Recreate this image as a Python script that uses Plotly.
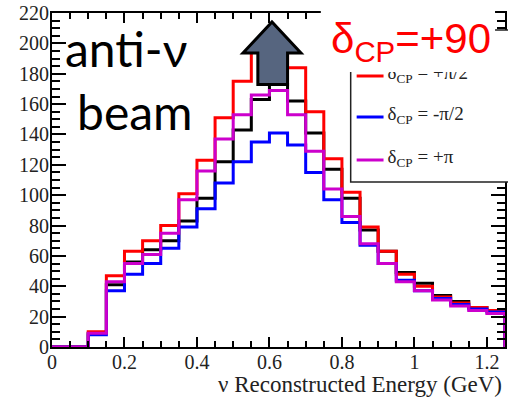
import plotly.graph_objects as go

# Reconstructed energy binning: 25 bins of 0.05 GeV from 0 to 1.25 GeV
bin_edges = [round(0.05 * i, 2) for i in range(26)]

# Expected event counts per bin for each value of delta_CP
counts_dcp_0 = [0, 0, 9, 41, 56, 64, 70, 83, 98, 122, 143, 163, 173,
                162, 141, 117, 98, 77, 63, 49, 42, 34, 30, 26, 24]
counts_dcp_plus_half_pi = [0, 0, 10, 47, 63, 70, 80, 101, 123, 151, 175, 198, 197,
                           184, 155, 124, 102, 79, 63, 48, 40, 33, 29, 26, 24]
counts_dcp_minus_half_pi = [0, 0, 8, 37, 48, 55, 65, 79, 91, 108, 122, 135, 141,
                            133, 115, 97, 82, 67, 55, 44, 37, 32, 28, 25, 23]
counts_dcp_pi = [0, 0, 9, 43, 55, 61, 75, 97, 116, 137, 153, 166, 169,
                 153, 129, 104, 86, 68, 55, 43, 37, 31, 27, 24, 22]

series = [
    ("δ<sub>CP</sub> = 0", counts_dcp_0, "#000000"),
    ("δ<sub>CP</sub> = +π/2", counts_dcp_plus_half_pi, "#ff0000"),
    ("δ<sub>CP</sub> = -π/2", counts_dcp_minus_half_pi, "#0000ff"),
    ("δ<sub>CP</sub> = +π", counts_dcp_pi, "#cc00cc"),
]

X_RANGE = [0, 1.25]
Y_RANGE = [0, 220]

W, H = 508, 398
ML, MR, MT, MB = 52, 1, 13, 51
PW, PH = W - ML - MR, H - MT - MB


def px(xp):
    """Horizontal pixel position -> paper coordinate."""
    return (xp - ML) / PW


def py(yp):
    """Vertical pixel position (from top) -> paper coordinate."""
    return (H - MB - yp) / PH


def dx(xp):
    return X_RANGE[0] + px(xp) * (X_RANGE[1] - X_RANGE[0])


def dy(yp):
    return Y_RANGE[0] + py(yp) * (Y_RANGE[1] - Y_RANGE[0])


def step_xy(vals):
    # histogram outline: one point per bin edge, closed down to zero at the end
    x = list(bin_edges) + [bin_edges[-1]]
    y = list(vals) + [vals[-1], 0]
    return x, y


fig = go.Figure()
for name, vals, color in series:
    x, y = step_xy(vals)
    fig.add_trace(go.Scatter(x=x, y=y, mode="lines", line_shape="hv",
                             line=dict(color=color, width=3), name=name,
                             showlegend=False, hoverinfo="skip"))

serif = "Liberation Serif, Times New Roman, serif"

# legend entry labels (the top entry is partly covered by the label box)
legend_rows = [(series[1], 76), (series[2], 117), (series[3], 160)]
fig.add_trace(go.Scatter(
    x=[dx(389)] * len(legend_rows),
    y=[dy(yrow - 2) for _, yrow in legend_rows],
    mode="text", text=[s[0] for s, _ in legend_rows],
    textposition="middle right",
    textfont=dict(family=serif, size=19, color="#222"),
    showlegend=False, hoverinfo="skip", cliponaxis=False))

axis_common = dict(
    showline=True, linewidth=2, linecolor="black", mirror="allticks",
    ticks="inside", tickwidth=2, tickcolor="black",
    showgrid=False, zeroline=False,
    tickfont=dict(family=serif, size=20, color="#222"),
)

fig.update_layout(
    width=W, height=H,
    margin=dict(l=ML, r=MR, t=MT, b=MB, pad=0),
    paper_bgcolor="white", plot_bgcolor="white",
    xaxis=dict(range=X_RANGE, tick0=0, dtick=0.2, ticklen=10,
               ticklabelstandoff=-4,
               minor=dict(dtick=0.05, ticklen=6, tickwidth=1.5, ticks="inside",
                          tickcolor="black"),
               **axis_common),
    yaxis=dict(range=Y_RANGE, tick0=0, dtick=20, ticklen=14,
               ticklabelstandoff=-3,
               minor=dict(dtick=5, ticklen=8, tickwidth=1.5, ticks="inside",
                          tickcolor="black"),
               **axis_common),
)

shapes = []
annotations = []

# legend: white fill to the right of the labels, then frame and line samples
shapes.append(dict(type="rect", xref="paper", yref="paper",
                   x0=px(470), x1=px(520), y0=py(182), y1=py(30),
                   line=dict(width=0), fillcolor="white", layer="above"))
shapes.append(dict(type="rect", xref="paper", yref="paper",
                   x0=px(352), x1=px(520), y0=py(182), y1=py(30),
                   line=dict(color="#222", width=1.5), layer="above"))
for (name, _, color), yrow in legend_rows:
    shapes.append(dict(type="line", xref="paper", yref="paper",
                       x0=px(358), x1=px(385), y0=py(yrow), y1=py(yrow),
                       line=dict(color=color, width=3), layer="above"))

# up arrow marking the peak
ax_l, ax_r = 0.527, 0.687      # head wings
ab_l, ab_r = 0.568, 0.650      # shaft
a_tip, a_base, a_bot = 214.1, 193.7, 172.9
a_mid = (ax_l + ax_r) / 2
arrow_path = (f"M {ax_l},{a_base} L {a_mid},{a_tip} L {ax_r},{a_base} "
              f"L {ab_r},{a_base} L {ab_r},{a_bot} L {ab_l},{a_bot} "
              f"L {ab_l},{a_base} Z")
shapes.append(dict(type="path", xref="x", yref="y", path=arrow_path,
                   fillcolor="#56657f", line=dict(color="black", width=3),
                   layer="above"))

# white box behind the delta_CP label
shapes.append(dict(type="rect", xref="paper", yref="paper",
                   x0=px(322), x1=px(497), y0=py(72), y1=py(-5),
                   line=dict(width=0), fillcolor="white", layer="above"))

# beam label
sans = "Lato, Open Sans, DejaVu Sans, sans-serif"
annotations.append(dict(xref="paper", yref="paper", x=px(63), y=py(49),
                        xanchor="left", yanchor="middle", showarrow=False,
                        text="anti-ν", font=dict(family=sans, size=48, color="black")))
annotations.append(dict(xref="paper", yref="paper", x=px(75), y=py(112),
                        xanchor="left", yanchor="middle", showarrow=False,
                        text="beam", font=dict(family=sans, size=48, color="black")))

# delta_CP label
annotations.append(dict(xref="paper", yref="paper", x=px(330), y=py(42),
                        xanchor="left", yanchor="middle", showarrow=False,
                        text="δ<sub>CP</sub>=+90",
                        font=dict(family="Liberation Sans, Arial, sans-serif",
                                  size=42, color="#ff0000")))

# x-axis title
annotations.append(dict(xref="paper", yref="paper", x=px(506), y=0,
                        xanchor="right", yanchor="top", yshift=-23, showarrow=False,
                        text="ν Reconstructed Energy (GeV)",
                        font=dict(family=serif, size=23, color="#222")))

fig.update_layout(shapes=shapes, annotations=annotations)
fig.write_html("out.html")
